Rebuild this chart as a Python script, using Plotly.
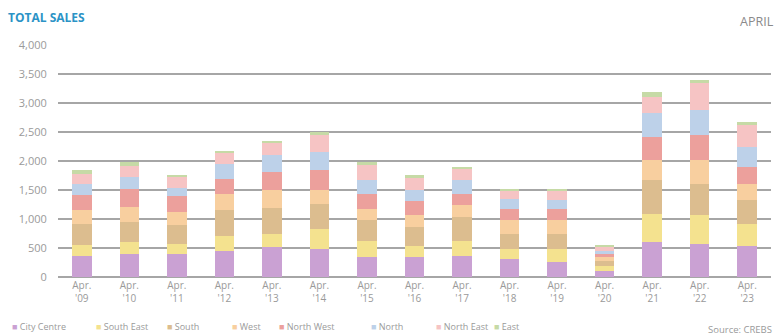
import plotly.graph_objects as go

years = ["Apr.<br>'09", "Apr.<br>'10", "Apr.<br>'11", "Apr.<br>'12", "Apr.<br>'13",
         "Apr.<br>'14", "Apr.<br>'15", "Apr.<br>'16", "Apr.<br>'17", "Apr.<br>'18",
         "Apr.<br>'19", "Apr.<br>'20", "Apr.<br>'21", "Apr.<br>'22", "Apr.<br>'23"]

city_centre = [375, 404, 404, 461, 518, 490, 345, 345, 375, 318, 259, 116, 604, 577, 547]
south_east  = [190, 213, 173, 259, 231, 346, 277, 202, 259, 172, 231, 86, 490, 489, 375]
south       = [357, 333, 316, 432, 449, 432, 369, 317, 402, 260, 260, 74, 576, 547, 403]
west        = [230, 259, 230, 276, 299, 229, 190, 202, 202, 229, 229, 69, 345, 402, 288]
north_west  = [259, 306, 271, 271, 316, 346, 247, 247, 202, 202, 202, 59, 403, 432, 287]
north       = [202, 212, 143, 247, 289, 316, 242, 196, 230, 173, 144, 57, 404, 432, 345]
north_east  = [173, 185, 190, 185, 202, 288, 259, 201, 185, 126, 172, 74, 286, 461, 375]
east        = [57, 74, 29, 45, 45, 57, 47, 58, 45, 46, 30, 30, 87, 45, 57]

series = [
    ("City Centre", city_centre, "#caa1d3"),
    ("South East", south_east, "#f4e28f"),
    ("South", south, "#dcbd8f"),
    ("West", west, "#f8cf9f"),
    ("North West", north_west, "#eca09c"),
    ("North", north, "#bdd1e9"),
    ("North East", north_east, "#f6c4c4"),
    ("East", east, "#c6daa6"),
]

y_ticks = [0, 500, 1000, 1500, 2000, 2500, 3000, 3500, 4000]
y_tick_text = ["0", "500", "1,000", "1,500", "2,000", "2,500", "3,000", "3,500", "4,000"]

# left edge (px) of each key entry in the bottom row
key_left = [10, 94, 165, 230, 277, 369, 434, 492]

fig = go.Figure()
for name, vals, color in series:
    fig.add_trace(go.Bar(x=years, y=vals, name=name, marker_color=color,
                         marker_line_width=0, showlegend=False))

fig.update_layout(
    width=783, height=336,
    barmode="stack", bargap=0.59,
    plot_bgcolor="white", paper_bgcolor="white",
    margin=dict(l=58, r=12, t=44, b=58, autoexpand=False),
    font=dict(family="Open Sans, Arial, sans-serif", color="#9a9a9a", size=10),
    xaxis=dict(showgrid=False, showline=False, ticks="",
               tickfont=dict(size=10, color="#9a9a9a")),
    yaxis=dict(range=[-10, 4012], tickvals=y_ticks, ticktext=y_tick_text,
               showgrid=True, gridcolor="#a6a6a6", gridwidth=2,
               zeroline=True, zerolinecolor="#a6a6a6", zerolinewidth=2,
               ticks="outside", ticklen=8, tickcolor="rgba(0,0,0,0)",
               tickfont=dict(size=11, color="#9a9a9a")),
    showlegend=False,
)

# key row: coloured square followed by the region name
for (name, vals, color), left in zip(series, key_left):
    fig.add_annotation(text=f'<span style="color:{color}">■</span> {name}',
                       xref="paper", yref="paper", x=0, xshift=left - 58,
                       y=0, yshift=-48, xanchor="left", yanchor="middle",
                       showarrow=False, font=dict(size=9, color="#9a9a9a"))

fig.add_annotation(text="<b>TOTAL SALES</b>", xref="paper", yref="paper",
                   x=0, xshift=-52, y=1.0, yshift=27, xanchor="left", yanchor="middle",
                   showarrow=False, font=dict(size=12, color="#2b93c6"))
fig.add_annotation(text="APRIL", xref="paper", yref="paper",
                   x=1.0, y=1.0, yshift=23, xanchor="left", xshift=-33, yanchor="middle",
                   showarrow=False, font=dict(size=12.5, color="#8a8a8a"))
fig.add_annotation(text="Source: CREBS", xref="paper", yref="paper",
                   x=1.0, xshift=-65, y=0, yshift=-51, xanchor="left", yanchor="middle",
                   showarrow=False, font=dict(size=9.5, color="#9a9a9a"))

fig.write_html("out.html")
